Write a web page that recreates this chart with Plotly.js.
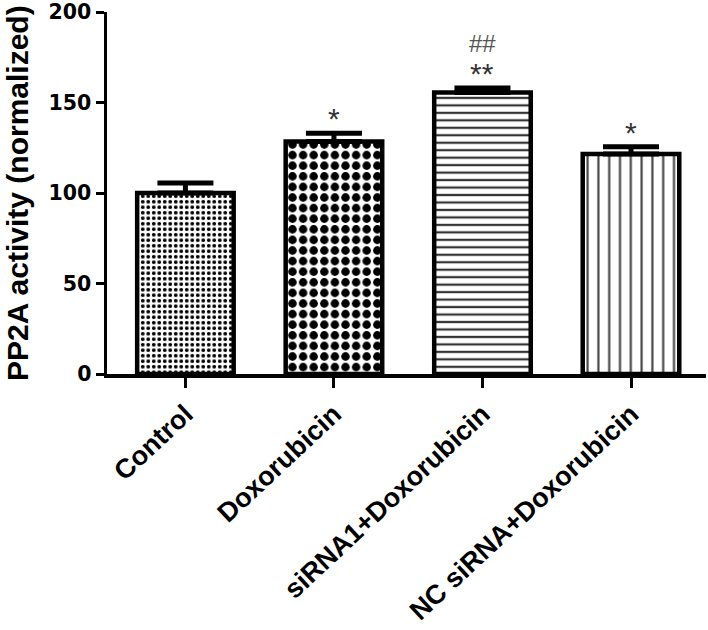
<!DOCTYPE html>
<html>
<head>
<meta charset="utf-8">
<script src="https://cdn.plot.ly/plotly-3.0.1.min.js"></script>
<style>html,body{margin:0;padding:0;background:#fff;}#chart{width:708px;height:630px;}</style>
</head>
<body>
<div id="chart"></div>
<script>
const categories = ['Control', 'Doxorubicin', 'siRNA1+Doxorubicin', 'NC siRNA+Doxorubicin'];
const activity = [100, 128.5, 155.5, 121.5];
const sem = [5.5, 4.5, 2.5, 4];
const sigStars = ['', '*', '**', '*'];
const sigHash = ['', '', '##', ''];
const yTicks = [0, 50, 100, 150, 200];
const yTitle = 'PP2A activity (normalized)';

const patterns = [
  {shape: '.', size: 5.5, solidity: 0.38, fgcolor: '#000', bgcolor: '#fff'},
  {shape: '.', size: 10.6, solidity: 0.5, fgcolor: '#000', bgcolor: '#fff'},
  {shape: '-', size: 7.47, solidity: 0.3, fgcolor: '#333', bgcolor: '#fff'},
  {shape: '|', size: 10.8, solidity: 0.2, fgcolor: '#444', bgcolor: '#fff'}
];

const traces = categories.map((c, i) => ({
  type: 'bar',
  x: [c],
  y: [activity[i]],
  width: 0.65,
  marker: {
    color: '#fff',
    line: {color: '#000', width: 4.5},
    pattern: patterns[i]
  },
  error_y: {
    type: 'data', symmetric: false,
    array: [sem[i]], arrayminus: [0],
    color: '#000', thickness: 5, width: 28
  },
  showlegend: false,
  hoverinfo: 'skip'
}));

const annotations = [];
categories.forEach((c, i) => {
  if (sigStars[i]) annotations.push({
    x: c, y: activity[i] + sem[i], xref: 'x', yref: 'y',
    text: sigStars[i], showarrow: false, yanchor: 'bottom', yshift: -4,
    font: {family: 'Liberation Sans, Arial, sans-serif', size: 30, color: '#333'}
  });
  if (sigHash[i]) annotations.push({
    x: c, y: activity[i] + sem[i], xref: 'x', yref: 'y',
    text: sigHash[i], showarrow: false, yanchor: 'bottom', yshift: 29,
    font: {family: 'Liberation Sans, Arial, sans-serif', size: 24, color: '#555'}
  });
});
annotations.push({
  x: 0, y: 0.5, xref: 'paper', yref: 'paper', xanchor: 'center', yanchor: 'middle',
  xshift: -90, textangle: -90, showarrow: false, text: yTitle,
  font: {family: 'Liberation Sans, Arial, sans-serif', size: 30, color: '#000', weight: 'bold'}
});

const layout = {
  width: 708, height: 630,
  margin: {l: 107, r: 2, t: 12, b: 256},
  paper_bgcolor: '#fff', plot_bgcolor: '#fff',
  xaxis: {
    type: 'category',
    range: [-0.528, 3.505],
    showline: true, linewidth: 3.5, linecolor: '#000',
    ticks: 'outside', ticklen: 10, tickwidth: 3, tickcolor: '#000',
    tickangle: -43,
    tickfont: {family: 'Liberation Sans, Arial, sans-serif', size: 27, color: '#000', weight: 'bold'},
    showgrid: false, zeroline: false, fixedrange: true
  },
  yaxis: {
    range: [0, 200],
    tickvals: yTicks, ticktext: yTicks.map(String),
    ticklabeloverflow: 'allow',
    showline: true, linewidth: 3.5, linecolor: '#000',
    ticks: 'outside', ticklen: 8, tickwidth: 3, tickcolor: '#000',
    tickfont: {family: 'DejaVu Sans, sans-serif', size: 20.5, color: '#000', weight: 'bold'},
    showgrid: false, zeroline: false, fixedrange: true
  },
  annotations: annotations,
  bargap: 0.35
};

Plotly.newPlot('chart', traces, layout, {displayModeBar: false, staticPlot: true});
</script>
</body>
</html>
